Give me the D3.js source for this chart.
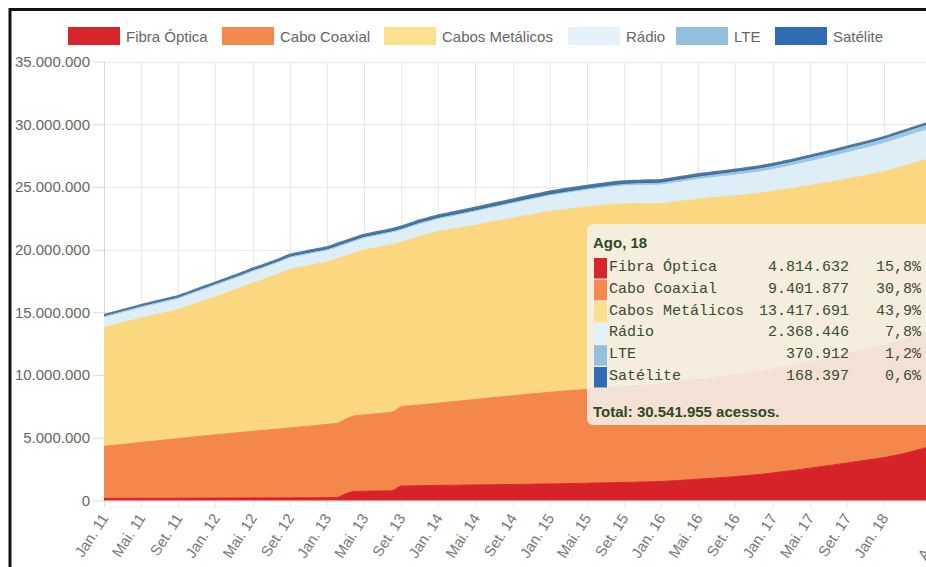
<!DOCTYPE html>
<html lang="pt-BR">
<head>
<meta charset="utf-8">
<title>Acessos de banda larga fixa por tecnologia</title>
<script src="https://cdn.jsdelivr.net/npm/d3@7"></script>
<style>
  html, body { margin: 0; padding: 0; background: #fff; overflow: hidden; }
  svg { display: block; font-family: "Liberation Sans", Arial, sans-serif; }
  .mono { font-family: "Liberation Mono", "DejaVu Sans Mono", monospace; }
</style>
</head>
<body>
<svg id="chart" width="926" height="567"></svg>
<script>
// ---- Data: fixed broadband accesses (thousands) per month, Jan. 11 to Ago. 18 ----
const monthNames = ["Jan", "Fev", "Mar", "Abr", "Mai", "Jun", "Jul", "Ago", "Set", "Out", "Nov", "Dez"];
const years = ["11", "12", "13", "14", "15", "16", "17", "18"];
const monthsIn2018 = 8;

const seriesNames = ["Fibra Óptica", "Cabo Coaxial", "Cabos Metálicos", "Rádio", "LTE", "Satélite"];

const fibraOptica = [
  170, 172, 174, 176, 178, 180, 182, 184, 186, 188, 190, 192,
  194, 196, 198, 200, 203, 206, 209, 212, 215, 218, 222, 226,
  230, 234, 520, 730, 740, 750, 760, 780, 1150, 1170, 1180, 1190,
  1200, 1210, 1220, 1230, 1240, 1250, 1260, 1270, 1280, 1290, 1300, 1310,
  1320, 1335, 1350, 1365, 1380, 1395, 1410, 1425, 1440, 1455, 1470, 1490,
  1520, 1560, 1600, 1650, 1700, 1750, 1800, 1850, 1910, 1970, 2040, 2110,
  2200, 2290, 2380, 2480, 2580, 2680, 2780, 2880, 2990, 3100, 3200, 3310,
  3420, 3560, 3720, 3900, 4100, 4320, 4560, 4814.632
];
const caboCoaxial = [
  4150, 4225, 4300, 4375, 4450, 4525, 4600, 4675, 4750, 4825, 4900, 4975,
  5050, 5115, 5180, 5245, 5310, 5375, 5440, 5505, 5570, 5635, 5700, 5770,
  5840, 5900, 5960, 6020, 6080, 6140, 6200, 6260, 6320, 6380, 6440, 6500,
  6560, 6625, 6690, 6755, 6820, 6885, 6950, 7010, 7070, 7130, 7190, 7250,
  7310, 7355, 7400, 7440, 7480, 7520, 7560, 7600, 7640, 7680, 7720, 7760,
  7800, 7840, 7880, 7920, 7960, 8000, 8040, 8080, 8120, 8160, 8200, 8240,
  8280, 8330, 8380, 8430, 8480, 8530, 8590, 8650, 8710, 8770, 8830, 8890,
  8950, 9020, 9090, 9160, 9230, 9290, 9350, 9401.877
];
const cabosMetalicos = [
  9480, 9590, 9700, 9810, 9920, 10010, 10100, 10190, 10280, 10460, 10640, 10820,
  11000, 11200, 11400, 11600, 11820, 12000, 12200, 12400, 12630, 12720, 12800, 12870,
  12930, 13110, 13010, 12980, 13150, 13220, 13300, 13360, 13120, 13280, 13450, 13570,
  13690, 13740, 13790, 13845, 13900, 13965, 14030, 14095, 14160, 14225, 14290, 14355,
  14420, 14450, 14480, 14510, 14540, 14560, 14580, 14590, 14580, 14540, 14480, 14410,
  14350, 14360, 14370, 14370, 14370, 14350, 14330, 14300, 14270, 14240, 14210, 14190,
  14170, 14140, 14110, 14090, 14060, 14030, 14000, 13970, 13940, 13910, 13880, 13860,
  13850, 13840, 13820, 13790, 13740, 13660, 13550, 13417.691
];
const radio = [
  850, 858, 866, 875, 884, 893, 902, 911, 920, 930, 940, 950,
  960, 955, 958, 962, 965, 960, 963, 966, 968, 970, 968, 969,
  970, 975, 978, 984, 990, 995, 1000, 1005, 1012, 1018, 1024, 1028,
  1030, 1050, 1070, 1090, 1110, 1130, 1150, 1170, 1190, 1210, 1230, 1245,
  1260, 1280, 1300, 1320, 1340, 1360, 1380, 1400, 1420, 1440, 1460, 1475,
  1490, 1510, 1530, 1550, 1570, 1590, 1610, 1630, 1650, 1670, 1690, 1710,
  1730, 1770, 1810, 1855, 1900, 1945, 1990, 2035, 2080, 2125, 2170, 2215,
  2260, 2290, 2315, 2335, 2350, 2360, 2365, 2368.446
];
const lte = [
  0, 0, 0, 0, 0, 0, 0, 0, 0, 0, 0, 0,
  0, 0, 0, 0, 0, 0, 0, 0, 0, 0, 0, 0,
  0, 0, 0, 0, 0, 0, 0, 0, 0, 0, 0, 0,
  10, 13, 16, 20, 24, 28, 32, 36, 40, 45, 50, 55,
  60, 67, 74, 81, 88, 95, 102, 109, 117, 125, 133, 141,
  150, 158, 166, 174, 182, 190, 198, 206, 214, 222, 230, 240,
  250, 257, 264, 271, 278, 285, 292, 299, 306, 313, 320, 325,
  330, 336, 342, 348, 354, 360, 365, 370.912
];
const satelite = [
  150, 154, 158, 162, 165, 168, 171, 174, 177, 180, 184, 187,
  190, 194, 197, 200, 203, 207, 210, 213, 216, 220, 224, 227,
  230, 233, 236, 239, 241, 243, 245, 248, 251, 253, 255, 258,
  260, 262, 264, 266, 268, 270, 272, 273, 275, 277, 278, 279,
  280, 279, 278, 277, 276, 275, 273, 271, 269, 267, 265, 263,
  260, 257, 254, 251, 248, 245, 241, 237, 233, 229, 226, 223,
  220, 216, 213, 209, 206, 202, 199, 196, 193, 190, 186, 183,
  180, 178, 176, 174, 172, 170, 169, 168.397
];
const yTickValues = [0, 5000, 10000, 15000, 20000, 25000, 30000, 35000];

// ---- Styling ----
const seriesColors = ["#d8222a", "#f4874b", "#fbd880", "#ddeef7", "#9cc6e3", "#3a70a8"];
const legendColors = ["#d7262b", "#f5884c", "#fde08e", "#e3f2f8", "#92c1e0", "#2f6db3"];

const svg = d3.select("#chart");
const W = 926, H = 567;

const ptBR = d3.formatLocale({ decimal: ",", thousands: ".", grouping: [3], currency: ["R$", ""] });
const fmtInt = ptBR.format(",");
const fmtPct = ptBR.format(",.1f");

// Month labels
const labels = [];
years.forEach(y => {
  const n = y === "18" ? monthsIn2018 : 12;
  for (let m = 0; m < n; m++) labels.push(monthNames[m] + ". " + y);
});

const seriesData = [fibraOptica, caboCoaxial, cabosMetalicos, radio, lte, satelite];
const rows = labels.map((lab, i) => {
  const r = { label: lab };
  seriesNames.forEach((s, k) => r[s] = seriesData[k][i]);
  return r;
});

// ---- Scales ----
const x = d3.scalePoint().domain(labels).range([104, 949]);
const y = d3.scaleLinear().domain([0, 35000]).range([500.5, 61.5]);

// Every fourth month gets a tick; the last month too, skipping any tick too close to it
const lastIdx = labels.length - 1;
const xTickLabels = labels.filter((d, i) => (i % 4 === 0 && lastIdx - i >= 4) || i === lastIdx);

// ---- Grid ----
const grid = svg.append("g");
grid.selectAll("line.h").data(yTickValues).join("line")
  .attr("x1", 104).attr("x2", W)
  .attr("y1", d => Math.round(y(d)) + 0.5).attr("y2", d => Math.round(y(d)) + 0.5)
  .attr("stroke", "#e8e8e8").attr("stroke-width", 1);
grid.selectAll("line.v").data(xTickLabels).join("line")
  .attr("x1", d => Math.round(x(d)) + 0.5).attr("x2", d => Math.round(x(d)) + 0.5)
  .attr("y1", y(35000)).attr("y2", 507)
  .attr("stroke", (d, i) => i === 0 ? "#d8d8d8" : "#e8e8e8").attr("stroke-width", 1);

// ---- Stacked areas ----
const stack = d3.stack().keys(seriesNames);
const layers = stack(rows);
const area = d3.area()
  .x(d => x(d.data.label))
  .y0(d => y(d[0]))
  .y1(d => y(d[1]))
  .curve(d3.curveMonotoneX);
const topLine = d3.line()
  .x(d => x(d.data.label))
  .y(d => y(d[1]))
  .curve(d3.curveMonotoneX);

const plot = svg.append("g");
plot.selectAll("path.layer").data(layers).join("path")
  .attr("d", area)
  .attr("fill", (d, i) => seriesColors[i]);
plot.selectAll("path.edge").data(layers).join("path")
  .attr("d", topLine)
  .attr("fill", "none")
  .attr("stroke", (d, i) => i === 5 ? "#557a94" : seriesColors[i])
  .attr("stroke-width", (d, i) => i === 5 ? 1.8 : 1);

// ---- Y axis ----
const yAxis = svg.append("g").attr("transform", "translate(104,0)")
  .call(d3.axisLeft(y).tickValues(yTickValues).tickSize(11).tickPadding(3)
    .tickFormat(d => fmtInt(d * 1000)));
yAxis.select(".domain").remove();
yAxis.selectAll(".tick line").attr("stroke", "#dcdcdc");
yAxis.selectAll(".tick text")
  .attr("fill", "#666")
  .style("font-family", "'Liberation Sans', Arial, sans-serif")
  .style("font-size", "15px");

// ---- X axis labels (rotated) ----
const xl = svg.append("g");
xl.selectAll("text").data(xTickLabels).join("text")
  .attr("transform", d => `translate(${x(d) + 5},518) rotate(-57)`)
  .attr("text-anchor", "end")
  .style("font-size", "15px")
  .attr("fill", "#777")
  .text(d => d);

// ---- Legend ----
const legendX = [68, 222, 384, 568, 676, 775];
const legend = svg.append("g");
seriesNames.forEach((s, i) => {
  legend.append("rect")
    .attr("x", legendX[i]).attr("y", 27).attr("width", 52).attr("height", 18)
    .attr("fill", legendColors[i]);
  legend.append("text")
    .attr("x", legendX[i] + 58).attr("y", 42)
    .style("font-size", "15px").attr("fill", "#666")
    .text(s);
});

// ---- Tooltip for the last month ----
const lastVals = seriesData.map(s => Math.round(s[lastIdx] * 1000));
const lastTotal = d3.sum(lastVals);
const tip = svg.append("g");
tip.append("rect")
  .attr("x", 587).attr("y", 224).attr("width", 420).attr("height", 201).attr("rx", 6)
  .attr("fill", "rgba(243,240,236,0.86)");
tip.append("text")
  .attr("x", 593).attr("y", 248)
  .style("font-size", "15px").style("font-weight", "bold").attr("fill", "#2f4a22")
  .text(labels[lastIdx].replace(".", ","));
seriesNames.forEach((s, i) => {
  const base = 271 + i * 21.8;
  tip.append("rect")
    .attr("x", 594).attr("y", base - 13).attr("width", 13).attr("height", 20.5)
    .attr("fill", legendColors[i]);
  tip.append("text").attr("class", "mono").attr("x", 609).attr("y", base)
    .style("font-size", "15px").attr("fill", "#3b4a33")
    .text(s);
  tip.append("text").attr("class", "mono").attr("x", 849).attr("y", base)
    .attr("text-anchor", "end")
    .style("font-size", "15px").attr("fill", "#3b4a33")
    .text(fmtInt(lastVals[i]));
  tip.append("text").attr("class", "mono").attr("x", 921).attr("y", base)
    .attr("text-anchor", "end")
    .style("font-size", "15px").attr("fill", "#3b4a33")
    .text(fmtPct(lastVals[i] / lastTotal * 100) + "%");
});
tip.append("text")
  .attr("x", 593).attr("y", 417)
  .style("font-size", "15px").style("font-weight", "bold").attr("fill", "#2f4a22")
  .text("Total: " + fmtInt(lastTotal) + " acessos.");

// ---- Frame ----
svg.append("path")
  .attr("d", `M10,${H} L10,9.5 L${W},9.5`)
  .attr("fill", "none").attr("stroke", "#111").attr("stroke-width", 3);
</script>
</body>
</html>
